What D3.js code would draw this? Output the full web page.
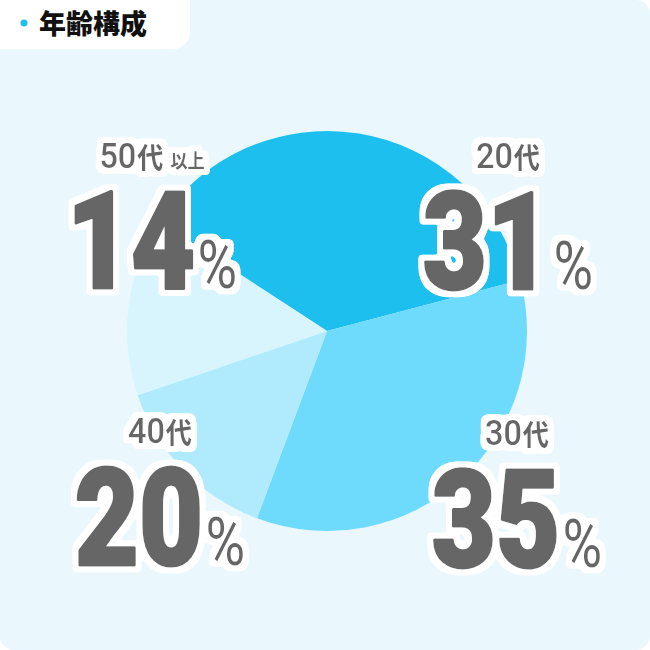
<!DOCTYPE html>
<html><head><meta charset="utf-8">
<script src="https://cdn.jsdelivr.net/npm/d3@7"></script>
<style>html,body{margin:0;padding:0;background:#fff;} svg{display:block}</style>
</head><body><svg id="c" width="650" height="650"></svg>
<script>
// ---- data ----
const title = "年齢構成";
const categories = ["20代", "30代", "40代", "50代"];
const categoryNumbers = ["20", "30", "40", "50"];
const categorySuffix = ["", "", "", "以上"];
const percentLabels = [31, 35, 20, 14];
// wedge sizes as drawn in the picture (angles)
const sliceShares = [36.7, 34.8, 14.1, 14.4];
const sliceColors = ["#1dbfee", "#6edbfd", "#b0eafd", "#d8f5fe"];

// ---- layout ----
const W = 650, H = 650;
const cx = 327, cy = 331, R = 200;
const startDeg = -56.9;
const labelLayout = [
  {x: 508, ySmall: 168, yBig: 289},
  {x: 517, ySmall: 445, yBig: 567},
  {x: 160, ySmall: 443, yBig: 565},
  {x: 152, ySmall: 168, yBig: 288}
];
const grey = "#666666";
const NUM_FONT = "Roboto, 'Noto Sans', sans-serif";
const JP_FONT = "'Noto Sans CJK JP', 'Noto Sans', sans-serif";

const svg = d3.select("#c");

// white outline filter
const defs = svg.append("defs");
const f = defs.append("filter").attr("id", "outline")
  .attr("x", "-20%").attr("y", "-30%").attr("width", "140%").attr("height", "160%");
f.append("feMorphology").attr("in", "SourceAlpha").attr("operator", "dilate")
  .attr("radius", 5).attr("result", "d0");
f.append("feGaussianBlur").attr("in", "d0").attr("stdDeviation", 1.5).attr("result", "d1");
const ct = f.append("feComponentTransfer").attr("in", "d1").attr("result", "d2");
ct.append("feFuncA").attr("type", "linear").attr("slope", 6).attr("intercept", -1.2);
f.append("feFlood").attr("flood-color", "#ffffff").attr("result", "w");
f.append("feComposite").attr("in", "w").attr("in2", "d2").attr("operator", "in").attr("result", "o");
const m = f.append("feMerge");
m.append("feMergeNode").attr("in", "o");
m.append("feMergeNode").attr("in", "SourceGraphic");

// background card
svg.append("rect").attr("x", 0).attr("y", 0).attr("width", W).attr("height", H)
  .attr("rx", 14).attr("fill", "#eaf8fe");

// title tab
const tw = 190, th = 49, tr = 17;
svg.append("path")
  .attr("d", `M0,0 H${tw} V${th - tr} A${tr},${tr} 0 0 1 ${tw - tr},${th} H0 Z`)
  .attr("fill", "#ffffff");
svg.append("circle").attr("cx", 24).attr("cy", 23).attr("r", 3.5).attr("fill", "#1dbfee");
svg.append("text").attr("x", 39).attr("y", 34)
  .attr("font-family", JP_FONT).attr("font-weight", 900).attr("font-size", 27)
  .attr("fill", "#111").text(title);

// pie
const start = startDeg * Math.PI / 180;
const pie = d3.pie().sort(null).value(d => d)
  .startAngle(start).endAngle(start + 2 * Math.PI);
const arc = d3.arc().innerRadius(0).outerRadius(R);
svg.append("g").attr("transform", `translate(${cx},${cy})`)
  .selectAll("path").data(pie(sliceShares)).join("path")
  .attr("d", arc)
  .attr("fill", (d, i) => sliceColors[i]);

// helper: lay out a row of text pieces, centred on 0, inside group g
function row(g, pieces) {
  const nodes = pieces.map(p => {
    const t = g.append("text").attr("fill", grey)
      .attr("font-family", p.font).attr("font-weight", p.weight)
      .attr("font-size", p.size).text(p.text);
    if (p.stroke) t.attr("stroke", grey).attr("stroke-width", p.stroke).attr("stroke-linejoin", "round");
    return t;
  });
  const widths = nodes.map(n => n.node().getComputedTextLength());
  const total = widths.reduce((a, b) => a + b, 0) + pieces.reduce((a, p) => a + (p.gap || 0), 0);
  let x = -total / 2;
  nodes.forEach((n, k) => {
    x += pieces[k].gap || 0;
    n.attr("x", x).attr("y", 0);
    x += widths[k];
  });
}

// labels
const labels = svg.append("g");
categories.forEach((c, i) => {
  const L = labelLayout[i];
  // small category label
  const gs = labels.append("g").attr("filter", "url(#outline)")
    .append("g").attr("transform", `translate(${L.x},${L.ySmall}) scale(0.9,1)`);
  const small = [
    {text: categoryNumbers[i], font: NUM_FONT, weight: 500, size: 36},
    {text: "代", font: JP_FONT, weight: 700, size: 29, gap: 1}
  ];
  if (categorySuffix[i]) small.push({text: categorySuffix[i], font: JP_FONT, weight: 700, size: 19, gap: 8});
  row(gs, small);
  // big percentage
  const gb = labels.append("g").attr("filter", "url(#outline)")
    .append("g").attr("transform", `translate(${L.x},${L.yBig}) scale(0.82,1)`);
  row(gb, [
    {text: String(percentLabels[i]), font: NUM_FONT, weight: 900, size: 135, stroke: 3},
    {text: "%", font: NUM_FONT, weight: 400, size: 66, gap: 3}
  ]);
});
</script></body></html>
